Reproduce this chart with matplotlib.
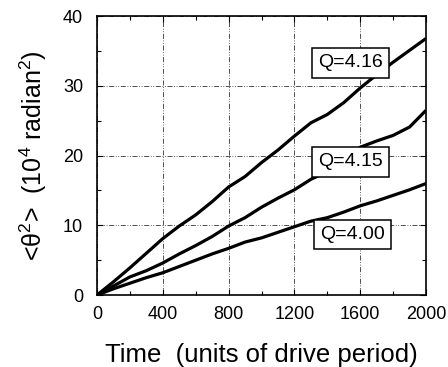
import matplotlib
matplotlib.use("Agg")
import matplotlib.pyplot as plt
from matplotlib.ticker import MultipleLocator

plt.rcParams['font.family'] = ['Liberation Sans', 'DejaVu Sans']
plt.rcParams['mathtext.fontset'] = 'custom'
plt.rcParams['mathtext.rm'] = 'Liberation Sans'
plt.rcParams['mathtext.it'] = 'Liberation Sans'

time = [0, 100, 200, 300, 400, 500, 600, 700, 800, 900, 1000,
        1100, 1200, 1300, 1400, 1500, 1600, 1700, 1800, 1900, 2000]
q416 = [0, 1.9, 3.9, 6.0, 8.1, 9.9, 11.5, 13.4, 15.5, 17.0, 19.0,
        20.8, 22.8, 24.7, 25.9, 27.6, 29.7, 31.6, 33.4, 35.1, 36.8]
q415 = [0, 1.3, 2.6, 3.5, 4.6, 5.9, 7.1, 8.4, 9.9, 11.1, 12.6,
        13.9, 15.1, 16.6, 17.7, 19.5, 21.2, 22.1, 22.9, 24.1, 26.5]
q400 = [0, 0.9, 1.7, 2.5, 3.2, 4.1, 5.0, 5.9, 6.7, 7.6, 8.2,
        9.0, 9.8, 10.6, 11.1, 11.9, 12.8, 13.5, 14.3, 15.1, 16.0]
labels = ["Q=4.16", "Q=4.15", "Q=4.00"]
label_pos = [(1540, 33.3), (1540, 19.1), (1555, 8.7)]

fig = plt.figure(figsize=(4.48, 3.67), dpi=100)
ax = fig.add_axes([0.2165, 0.196, 0.7345, 0.76])

for y in (q416, q415, q400):
    ax.plot(time, y, color='black', lw=2.3, solid_capstyle='butt')

for lab, (x, y) in zip(labels, label_pos):
    ax.text(x, y, lab, ha='center', va='center', fontsize=14,
            bbox=dict(boxstyle='square,pad=0.32', fc='white', ec='black', lw=1.1))

ax.set_xlim(0, 2000)
ax.set_ylim(0, 40)
ax.xaxis.set_major_locator(MultipleLocator(400))
ax.xaxis.set_minor_locator(MultipleLocator(200))
ax.yaxis.set_major_locator(MultipleLocator(10))
ax.yaxis.set_minor_locator(MultipleLocator(5))
ax.tick_params(which='both', direction='in', top=True, right=True, labelsize=13, color='black')
ax.tick_params(which='major', length=4, width=0.8)
ax.tick_params(axis='x', which='major', pad=8)
ax.tick_params(axis='y', which='major', pad=10)
ax.tick_params(which='minor', length=3, width=0.8)
ax.grid(True, which='major', color='#333333', lw=0.6, linestyle=(0, (6, 2, 1, 2, 1, 2)))
for s in ax.spines.values():
    s.set_linewidth(1.2)

ax.set_xlabel("Time  (units of drive period)", fontsize=18.5, labelpad=14)
ax.set_ylabel(r"<θ$^2$>  (10$^{4}$ radian$^{2}$)", fontsize=18, labelpad=10)

fig.savefig("out.png", dpi=100)
